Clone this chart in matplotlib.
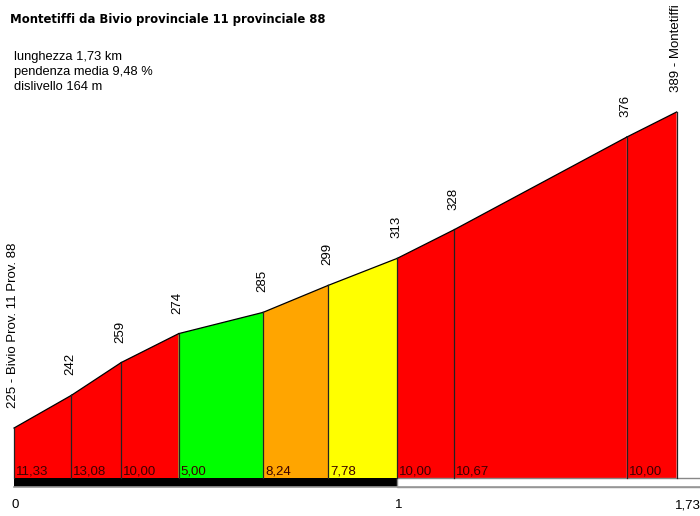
import matplotlib
matplotlib.use("Agg")
import matplotlib.pyplot as plt
from matplotlib.patches import Polygon, Rectangle
import numpy as np

# ---- data ----
title = "Montetiffi da Bivio provinciale 11 provinciale 88"
info_lines = ["lunghezza 1,73 km", "pendenza media 9,48 %", "dislivello 164 m"]
distances_km = [0.00, 0.15, 0.28, 0.43, 0.65, 0.82, 1.00, 1.15, 1.60, 1.73]
elevations_m = [225, 242, 259, 274, 285, 299, 313, 328, 376, 389]
gradients = ["11,33", "13,08", "10,00", "5,00", "8,24", "7,78", "10,00", "10,67", "10,00"]
start_name = "Bivio Prov. 11 Prov. 88"
end_name = "Montetiffi"
km_ticks = [0, 1, 1.73]
km_tick_labels = ["0", "1", "1,73"]


def grad_color(g):
    v = float(g.replace(",", "."))
    if v < 6:
        return "#00ff00"
    if v < 8:
        return "#ffff00"
    if v < 10:
        return "#ffa500"
    return "#ff0000"


# pixel mapping helpers for axes limits
px_per_km = 383.0
px_per_m = 1.927
x0_px, y389_px = 14.0, 112.0
W, H = 700, 516
xmin = -x0_px / px_per_km
xmax = (W - x0_px) / px_per_km
ymax = 389 + y389_px / px_per_m
ymin = 389 - (H - y389_px) / px_per_m
base = 389 - (478 - y389_px) / px_per_m
bar_bot = 389 - (487 - y389_px) / px_per_m

fig = plt.figure(figsize=(7.0, 5.16), dpi=100)
ax = fig.add_axes([0, 0, 1, 1])
ax.set_xlim(xmin, xmax)
ax.set_ylim(ymin, ymax)
ax.axis("off")

plt.rcParams["font.family"] = ["Liberation Sans", "DejaVu Sans"]

for i in range(len(distances_km) - 1):
    xa, xb = distances_km[i], distances_km[i + 1]
    ya, yb = elevations_m[i], elevations_m[i + 1]
    poly = Polygon([(xa, base), (xa, ya), (xb, yb), (xb, base)], closed=True,
                   facecolor=grad_color(gradients[i]), edgecolor="none")
    ax.add_patch(poly)
    ax.plot([xa, xb], [ya, yb], color="black", lw=0.9)
    ax.text(xa + 2 / px_per_km, base + 1 / px_per_m, gradients[i], fontsize=9.5,
            color="#3a0000", ha="left", va="bottom", family=["Liberation Sans"])

for i, (x, y) in enumerate(zip(distances_km, elevations_m)):
    ax.plot([x, x], [base, y], color="#222222", lw=0.9)
    if i == 0:
        lab = f"{y} - {start_name}"
    elif i == len(distances_km) - 1:
        lab = f"{y} - {end_name}"
    else:
        lab = f"{y}"
    ax.text(x - 1 / px_per_km, y + 20 / px_per_m, lab, rotation=90, fontsize=9.5,
            ha="center", va="bottom", color="black", family=["Liberation Sans"])

# distance bar
ax.add_patch(Rectangle((0, bar_bot), 1.0, base - bar_bot, facecolor="black",
                       edgecolor="none"))
ax.add_patch(Rectangle((1.0, bar_bot), xmax - 1.0 + 0.05, base - bar_bot,
                       facecolor="white", edgecolor="#888888", lw=1.0))
ax.plot([0, xmax], [bar_bot, bar_bot], color="#999999", lw=1.2)

for t, lab in zip(km_ticks, km_tick_labels):
    ax.text(t - 2 / px_per_km, 389 - (505 - y389_px) / px_per_m, lab, fontsize=9.5,
            ha="left", va="center", color="black", family=["Liberation Sans"])

fig.text(10 / W, 1 - 20 / H, title, fontsize=8.4, fontweight="bold",
         ha="left", va="center", family=["DejaVu Sans"])
for k, line in enumerate(info_lines):
    fig.text(14 / W, 1 - (57 + 15 * k) / H, line, fontsize=9.3, ha="left",
             va="center", color="black", family=["Liberation Sans"])

fig.savefig("out.png", dpi=100)
